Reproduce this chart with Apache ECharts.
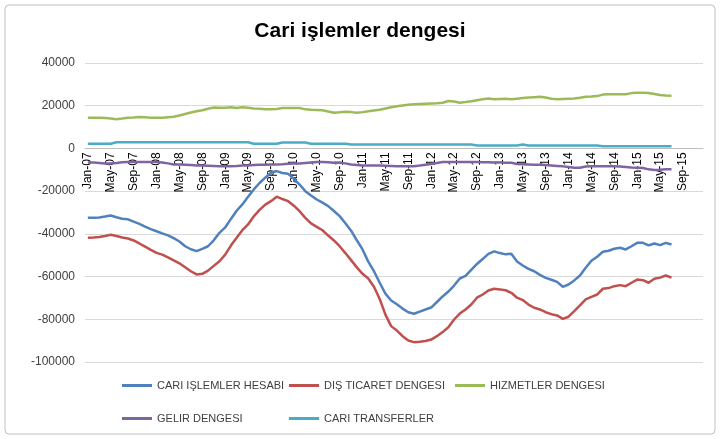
<!DOCTYPE html>
<html>
<head>
<meta charset="utf-8">
<title>Cari işlemler dengesi</title>
<script src="https://cdn.jsdelivr.net/npm/echarts@6/dist/echarts.min.js"></script>
<style>
  html, body { margin: 0; padding: 0; background: #fff; }
  #main { width: 720px; height: 439px; }
</style>
</head>
<body>
<div id="main"></div>
<script>
// months Jan-07 .. Dec-15, data runs to Jul-15
const monthNames = ['Jan', 'Feb', 'Mar', 'Apr', 'May', 'Jun', 'Jul', 'Aug', 'Sep', 'Oct', 'Nov', 'Dec']
const years = ['07', '08', '09', '10', '11', '12', '13', '14', '15']

const cariIslemler = [
  -32500, -32500, -32300, -31900, -31400, -32200, -32900, -33200, -34300, -35300,
  -36600, -37800, -38800, -39800, -40700, -42000, -43600, -45800, -47200, -48100,
  -47000, -45800, -43000, -39500, -37000, -33000, -29200, -26200, -22600, -19200,
  -16200, -13700, -11400, -10600, -11500, -11900, -14200, -16900, -20000, -22000,
  -23900, -25400, -27000, -29300, -31700, -35000, -38500, -43000, -47300, -53000,
  -57500, -62900, -68000, -71200, -73000, -75000, -76700, -77400, -76400, -75400,
  -74500, -71900, -69300, -67000, -64200, -60900, -59700, -56900, -54100, -51800,
  -49400, -48200, -49000, -49600, -49300, -52900, -54800, -56400, -57500, -59200,
  -60600, -61500, -62500, -64800, -63700, -61800, -59500, -55900, -52600, -50700,
  -48400, -47900, -47000, -46500, -47300, -45800, -44200, -44200, -45400, -44500,
  -45300, -44200, -45000
]
const disTicaret = [
  -41800, -41700, -41500, -41000, -40400, -41000, -41700, -42200, -43100, -44500,
  -46000, -47500, -48900, -49700, -51000, -52400, -53800, -55600, -57500, -59000,
  -58700, -57200, -55000, -52800, -49700, -45500, -41800, -38300, -35600, -31800,
  -28800, -26300, -24700, -22600, -23700, -24700, -26800, -29400, -32500, -35100,
  -36700, -38300, -40800, -43100, -45800, -49000, -52300, -55700, -58700, -60900,
  -64800, -70500, -77800, -83200, -85300, -87900, -89900, -90700, -90500, -90200,
  -89500, -87900, -86000, -83700, -80100, -77300, -75400, -73100, -69900, -68400,
  -66500, -65700, -66000, -66400, -67600, -69900, -71000, -73100, -74600, -75400,
  -76700, -77600, -78200, -79800, -78800, -76200, -73500, -70700, -69500, -68400,
  -65700, -65400, -64500, -64000, -64500, -62900, -61400, -61700, -62900, -61000,
  -60500, -59500, -60500
]
const hizmetler = [
  14400, 14400, 14400, 14300, 14000, 13700, 14000, 14400, 14500, 14700,
  14600, 14400, 14400, 14400, 14600, 14800, 15400, 16100, 16800, 17400,
  17900, 18600, 19200, 19100, 19000, 19300, 18900, 19300, 19000, 18700,
  18600, 18400, 18300, 18500, 18900, 18900, 18900, 18900, 18300, 18100,
  18000, 17900, 17300, 16700, 16900, 17200, 17000, 16700, 17000, 17400,
  17800, 18100, 18700, 19300, 19700, 20100, 20400, 20700, 20800, 20900,
  21000, 21100, 21400, 22200, 22000, 21400, 21700, 22100, 22600, 23000,
  23400, 23000, 23200, 23300, 23000, 23300, 23600, 23800, 24000, 24200,
  23800, 23300, 23000, 23200, 23300, 23400, 23700, 24200, 24300, 24500,
  25200, 25400, 25400, 25400, 25400, 25900, 26100, 26100, 26000, 25500,
  25000, 24800, 24700
]
const gelir = [
  -6600, -6600, -6800, -7000, -7000, -6800, -6500, -6400, -6400, -6400,
  -6400, -6400, -6400, -6600, -7000, -7500, -7500, -7600, -7800, -8000,
  -8000, -8100, -8200, -8300, -8300, -8300, -8200, -8000, -8000, -7800,
  -7600, -7600, -7500, -7500, -7400, -7200, -7000, -7000, -6800, -6600,
  -6400, -6400, -6500, -6700, -6700, -7000, -7500, -7800, -8000, -8000,
  -8000, -8000, -8100, -8200, -8300, -8300, -8300, -8300, -8000, -7600,
  -7300, -6800, -6400, -6400, -6400, -6400, -6400, -6400, -6400, -6500,
  -6500, -6600, -6600, -6700, -6700, -7300, -7400, -7500, -7600, -7700,
  -7800, -8000, -8200, -8400, -8700, -9000, -9000, -8500, -8300, -8300,
  -8300, -8300, -8300, -8500, -8700, -8900, -9000, -9200, -9800, -10100,
  -10000, -9800, -9700
]
const cariTransfer = [
  2200, 2200, 2200, 2200, 2200, 2900, 2900, 2900, 2900, 2900,
  2900, 2900, 2900, 2900, 2900, 2900, 2900, 2900, 2900, 2900,
  2900, 2900, 2900, 2900, 2900, 2900, 2900, 2900, 2900, 2200,
  2200, 2200, 2200, 2200, 2800, 2800, 2800, 2800, 2800, 2200,
  2200, 2200, 2200, 2200, 2200, 2200, 1800, 1800, 1800, 1800,
  1800, 1800, 1800, 1800, 1800, 1800, 1800, 1800, 1800, 1800,
  1800, 1800, 1800, 1800, 1800, 1800, 1800, 1800, 1400, 1400,
  1400, 1400, 1400, 1400, 1400, 1400, 1800, 1400, 1400, 1400,
  1400, 1400, 1400, 1400, 1400, 1400, 1400, 1400, 1400, 1400,
  1000, 1000, 1000, 1000, 1000, 1000, 1000, 1000, 1000, 1000,
  1000, 1000, 1000
]

const categories = []
for (const y of years) {
  for (const m of monthNames) {
    categories.push(m + '-' + y)
  }
}

const fontFamily = "'Liberation Sans Narrow', 'Liberation Sans', sans-serif"

const chartDom = document.getElementById('main')
const myChart = echarts.init(chartDom, null, { renderer: 'canvas' })

const seriesList = [
  { name: 'CARI IŞLEMLER HESABI', data: cariIslemler, color: '#4f81bd' },
  { name: 'DIŞ TICARET DENGESI', data: disTicaret, color: '#c0504d' },
  { name: 'HIZMETLER DENGESI', data: hizmetler, color: '#9bbb59' },
  { name: 'GELIR DENGESI', data: gelir, color: '#8064a2' },
  { name: 'CARI TRANSFERLER', data: cariTransfer, color: '#4bacc6' }
]

// legend columns, like the excel legend grid
const legendBase = {
  orient: 'vertical',
  top: 375,
  icon: 'rect',
  itemWidth: 30,
  itemHeight: 3,
  itemGap: 22,
  textStyle: { fontFamily: fontFamily, fontSize: 11, color: '#404040' }
}

const gridTop = 63
const gridBottom = 77
const yMin = -100000
const yMax = 40000
// category axis sits on the zero line (onZero does not move it here)
const zeroOffset = -(439 - gridTop - gridBottom) * (0 - yMin) / (yMax - yMin)

const option = {
  animation: false,
  backgroundColor: '#fff',
  title: {
    text: 'Cari işlemler dengesi',
    left: 'center',
    top: 16,
    textStyle: { fontFamily: fontFamily, fontSize: 21, fontWeight: 'bold', color: '#000' }
  },
  graphic: [{
    type: 'rect',
    shape: { x: 5, y: 5, width: 710, height: 429, r: 4 },
    style: { fill: 'none', stroke: '#bfbfbf', lineWidth: 1 },
    silent: true
  }],
  legend: [
    Object.assign({}, legendBase, { left: 117, data: ['CARI IŞLEMLER HESABI', 'GELIR DENGESI'] }),
    Object.assign({}, legendBase, { left: 284, data: ['DIŞ TICARET DENGESI', 'CARI TRANSFERLER'] }),
    Object.assign({}, legendBase, { left: 450, data: ['HIZMETLER DENGESI'] })
  ],
  grid: { left: 85, right: 17, top: gridTop, bottom: gridBottom },
  xAxis: {
    type: 'category',
    data: categories,
    boundaryGap: true,
    offset: zeroOffset,
    axisLine: { onZero: false, lineStyle: { color: '#bfbfbf' } },
    axisTick: { show: false },
    axisLabel: {
      interval: 3,
      rotate: 90,
      margin: 4,
      fontFamily: fontFamily,
      fontSize: 12,
      color: '#000'
    }
  },
  yAxis: {
    type: 'value',
    min: yMin,
    max: yMax,
    interval: 20000,
    axisLine: { show: false },
    axisTick: { show: false },
    axisLabel: {
      margin: 10,
      fontFamily: fontFamily,
      fontSize: 12,
      color: '#404040',
      formatter: v => String(v)
    },
    splitLine: { lineStyle: { color: '#d9d9d9', width: 1 } }
  },
  series: seriesList.map(s => ({
    name: s.name,
    type: 'line',
    data: s.data,
    showSymbol: false,
    color: s.color,
    lineStyle: { width: 2.5, color: s.color }
  }))
}

option && myChart.setOption(option)
</script>
</body>
</html>
